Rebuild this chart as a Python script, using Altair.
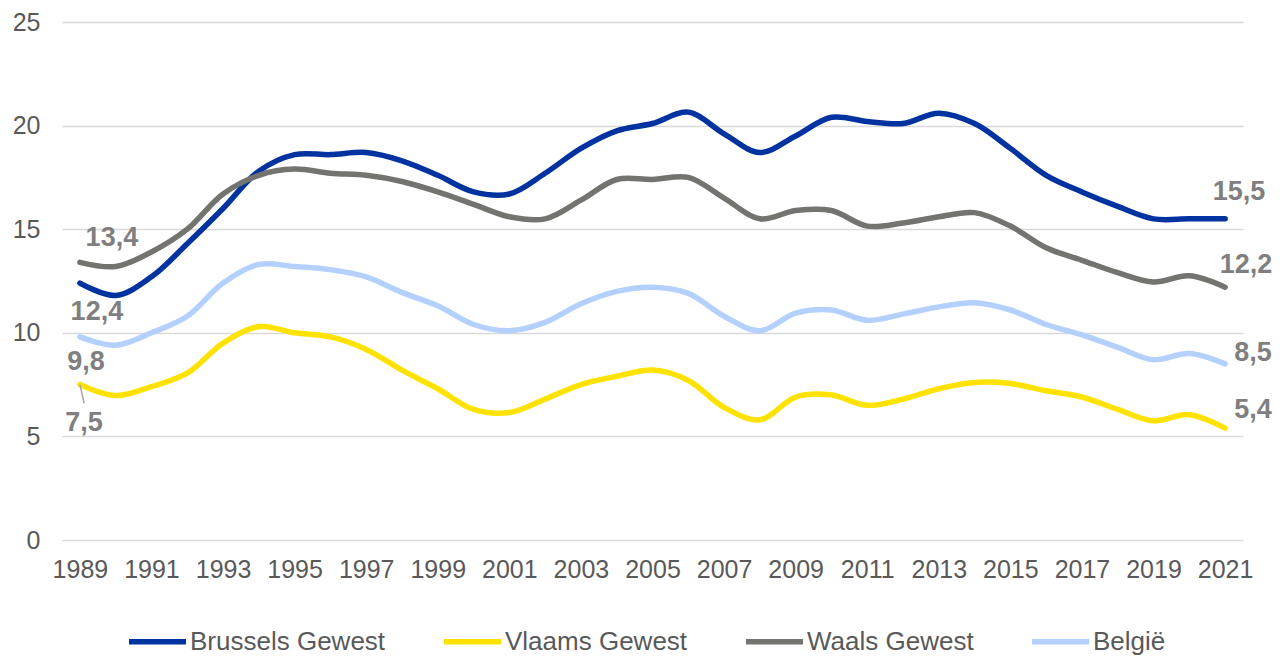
import altair as alt
import pandas as pd

years = list(range(1989, 2022))
series_names = ["Brussels Gewest", "Vlaams Gewest", "Waals Gewest", "België"]
brussels = [12.4, 11.8, 12.7, 14.3, 16.0, 17.8, 18.6, 18.6, 18.7, 18.3, 17.6, 16.8, 16.7,
            17.7, 18.9, 19.75, 20.1, 20.65, 19.6, 18.7, 19.5, 20.4, 20.2, 20.1, 20.6, 20.1,
            18.9, 17.6, 16.8, 16.1, 15.5, 15.5, 15.5]
vlaams = [7.5, 6.97, 7.4, 8.05, 9.5, 10.3, 10.0, 9.8, 9.2, 8.2, 7.3, 6.3, 6.15, 6.8, 7.5,
          7.9, 8.2, 7.7, 6.4, 5.8, 6.9, 7.0, 6.5, 6.8, 7.3, 7.6, 7.55, 7.2, 6.9, 6.3, 5.75,
          6.05, 5.4]
waals = [13.4, 13.2, 13.9, 15.0, 16.7, 17.6, 17.9, 17.7, 17.6, 17.3, 16.8, 16.2, 15.6, 15.5,
         16.4, 17.4, 17.4, 17.5, 16.5, 15.5, 15.9, 15.9, 15.15, 15.3, 15.6, 15.8, 15.15, 14.1,
         13.5, 12.9, 12.45, 12.75, 12.2]
belgie = [9.8, 9.4, 10.0, 10.8, 12.4, 13.3, 13.2, 13.05, 12.7, 11.95, 11.3, 10.4, 10.1, 10.5,
          11.4, 12.0, 12.2, 11.9, 10.8, 10.1, 10.95, 11.1, 10.6, 10.9, 11.25, 11.45, 11.1, 10.4,
          9.9, 9.3, 8.7, 9.0, 8.5]
x_tick_values = list(range(1989, 2022, 2))

# data labels: series, year, value
label_series = ["Waals Gewest", "Brussels Gewest", "België", "Vlaams Gewest",
                "Brussels Gewest", "Waals Gewest", "België", "Vlaams Gewest"]
label_years = [1989, 1989, 1989, 1989, 2021, 2021, 2021, 2021]
label_values = [13.4, 12.4, 9.8, 7.5, 15.5, 12.2, 8.5, 5.4]

colors = ["#0033A0", "#FFE200", "#737370", "#B3D0FF"]
label_offsets = [(32, -24), (17, 29), (6, 25), (4, 38), (14, -27), (21, -22), (28, -11), (28, -18)]

FONT = "Liberation Sans"

rows = []
for name, vals in zip(series_names, [brussels, vlaams, waals, belgie]):
    for y, v in zip(years, vals):
        rows.append({"Jaar": y, "Waarde": v, "Reeks": name})
df = pd.DataFrame(rows)

xscale = alt.Scale(domain=[1988.5, 2021.5], nice=False, zero=False)
yscale = alt.Scale(domain=[0, 25], nice=False)

color = alt.Color(
    "Reeks:N",
    scale=alt.Scale(domain=series_names, range=colors),
    sort=series_names,
    legend=alt.Legend(
        title=None, orient="none", direction="horizontal",
        legendX=64, legendY=588,
        symbolType="stroke", symbolSize=3249, symbolStrokeWidth=5.5,
        labelFont=FONT, labelFontSize=26, labelColor="#595959",
        labelOffset=1, columnPadding=47, labelLimit=400,
    ),
)

lines = alt.Chart(df).mark_line(strokeWidth=5.5, interpolate="catmull-rom", strokeCap="round").encode(
    x=alt.X("Jaar:Q", scale=xscale,
            axis=alt.Axis(values=x_tick_values, format="d", title=None, grid=False, ticks=False,
                          domain=False, labelFont=FONT, labelFontSize=25, labelColor="#595959",
                          labelPadding=17, labelFlush=False)),
    y=alt.Y("Waarde:Q", scale=yscale,
            axis=alt.Axis(values=[0, 5, 10, 15, 20, 25], title=None, grid=True, gridColor="#D9D9D9",
                          gridWidth=1.5, ticks=False, domain=False, labelFont=FONT,
                          labelFontSize=25, labelColor="#595959", labelPadding=22)),
    color=color,
)

lab_df = pd.DataFrame({
    "Jaar": label_years,
    "Waarde": label_values,
    "Reeks": label_series,
    "Tekst": [f"{v:.1f}".replace(".", ",") for v in label_values],
})

layers = [lines]
for i, (dx, dy) in enumerate(label_offsets):
    layers.append(
        alt.Chart(lab_df.iloc[[i]]).mark_text(
            font=FONT, fontSize=27, fontWeight="bold", color="#7F7F7F",
            dx=dx, dy=dy, align="center", baseline="middle",
        ).encode(x=alt.X("Jaar:Q", scale=xscale), y=alt.Y("Waarde:Q", scale=yscale), text="Tekst:N")
    )

# leader line for the 7,5 label
leader_df = pd.DataFrame({"Jaar": [1989], "Waarde": [7.5], "Jaar2": [1989.12], "Waarde2": [6.6]})
leader = alt.Chart(leader_df).mark_rule(color="#A6A6A6", strokeWidth=1.5).encode(
    x=alt.X("Jaar:Q", scale=xscale), y=alt.Y("Waarde:Q", scale=yscale),
    x2="Jaar2:Q", y2="Waarde2:Q",
)
layers.insert(1, leader)

chart = alt.layer(*layers).properties(
    width=1181, height=518,
    autosize=alt.AutoSizeParams(type="none"),
    padding={"left": 54, "top": 14, "right": 35, "bottom": 118},
).configure(background="white").configure_view(stroke=None)

chart.save("out.html", embed_options={"renderer": "svg", "actions": False})
